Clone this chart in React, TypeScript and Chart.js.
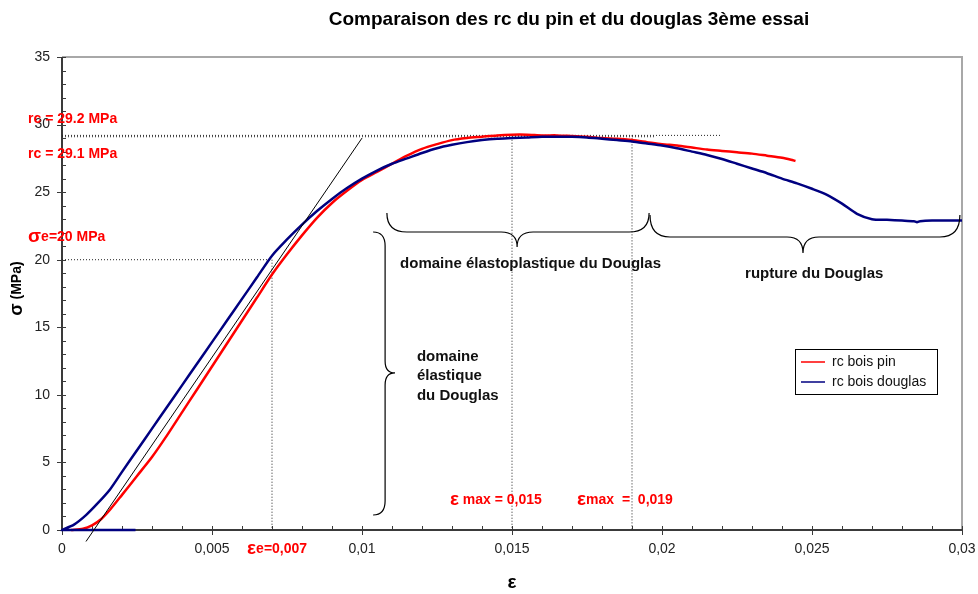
import React, { useEffect, useRef } from 'react';
import { Chart, registerables } from 'chart.js';

Chart.register(...registerables);

// Strain (ε) / stress (MPa) readings, pine specimen
const strainPin = [
  0.0003, 0.0007, 0.001, 0.0013, 0.0016, 0.002, 0.0025, 0.003, 0.0035, 0.004,
  0.0045, 0.005, 0.0055, 0.006, 0.0065, 0.007, 0.0075, 0.008, 0.0085, 0.009,
  0.0095, 0.01, 0.0105, 0.011, 0.0115, 0.012, 0.0125, 0.013, 0.0135, 0.014,
  0.0145, 0.015, 0.0155, 0.016, 0.0165, 0.017, 0.0175, 0.018, 0.0185, 0.019,
  0.0195, 0.02, 0.0205, 0.021, 0.0215, 0.022, 0.0225, 0.023, 0.0235, 0.024,
  0.0243, 0.02445,
];
const stressPin = [
  0, 0.1, 0.35, 0.8, 1.5, 2.6, 4.0, 5.4, 7.0, 8.7,
  10.4, 12.1, 13.8, 15.5, 17.2, 18.9, 20.4, 21.8, 23.1, 24.2,
  25.1, 25.9, 26.5, 27.1, 27.7, 28.2, 28.55, 28.85, 29.0, 29.1,
  29.2, 29.25, 29.25, 29.2, 29.2, 29.15, 29.1, 29.0, 28.95, 28.85,
  28.7, 28.55, 28.45, 28.3, 28.15, 28.05, 27.95, 27.85, 27.7, 27.55,
  27.4, 27.3,
];

// Strain (ε) / stress (MPa) readings, Douglas fir specimen
const strainDouglas = [
  0.00245, 0, 0.0004, 0.0008, 0.0012, 0.0016, 0.002, 0.0025, 0.003, 0.0035,
  0.004, 0.0045, 0.005, 0.0055, 0.006, 0.0065, 0.007, 0.0075, 0.008, 0.0085,
  0.009, 0.0095, 0.01, 0.0105, 0.011, 0.0115, 0.012, 0.0125, 0.013, 0.0135,
  0.014, 0.0145, 0.015, 0.0155, 0.016, 0.0165, 0.017, 0.0175, 0.018, 0.0185,
  0.019, 0.0195, 0.02, 0.0205, 0.021, 0.0215, 0.022, 0.0225, 0.023, 0.0235,
  0.024, 0.0245, 0.025, 0.0255, 0.026, 0.0265, 0.027, 0.0275, 0.028, 0.0284,
  0.0285, 0.0286, 0.029, 0.0295, 0.03,
];
const stressDouglas = [
  0, 0, 0.4, 1.1, 2.0, 3.0, 4.3, 5.9, 7.5, 9.1,
  10.7, 12.3, 13.9, 15.5, 17.1, 18.7, 20.3, 21.5, 22.6, 23.6,
  24.5, 25.3, 26.0, 26.6, 27.1, 27.5, 27.9, 28.25, 28.5, 28.7,
  28.85, 28.95, 29.0, 29.05, 29.1, 29.1, 29.1, 29.05, 28.95, 28.85,
  28.75, 28.6, 28.45, 28.25, 28.0, 27.75, 27.45, 27.1, 26.75, 26.4,
  26.0, 25.65, 25.25, 24.8, 24.15, 23.4, 23.0, 22.95, 22.9, 22.85,
  22.78, 22.85, 22.9, 22.9, 22.9,
];

// Tangent to the elastic part
const tangentStrain = [0.0008, 0.01];
const tangentStress = [-0.85, 29.0];

// Characteristic values
const rcPin = 29.2;
const rcDouglas = 29.1;
const sigmaE = 20;
const epsE = 0.007;
const epsMax1 = 0.015;
const epsMax2 = 0.019;
const rcPinReach = 0.022;
const rcDouglasReach = 0.0198;

const seriesLabels = ['rc bois pin', 'rc bois douglas'];
const seriesColors = ['#ff0000', '#000080'];

const xMin = 0;
const xMax = 0.03;
const xStep = 0.005;
const xMinorStep = 0.001;
const yMin = 0;
const yMax = 35;
const yStep = 5;
const yMinorStep = 1;

const FONT = '"Liberation Sans", Arial, Helvetica, sans-serif';

const toPoints = (xs: number[], ys: number[]) => xs.map((x, i) => ({ x, y: ys[i] }));

const formatTick = (v: number) => String(+Number(v).toFixed(4)).replace('.', ',');

type Part = { text: string; font: string };

function drawParts(ctx: CanvasRenderingContext2D, parts: Part[], x: number, y: number, color: string) {
  ctx.save();
  ctx.fillStyle = color;
  ctx.textBaseline = 'middle';
  ctx.textAlign = 'left';
  let cx = x;
  for (const p of parts) {
    ctx.font = p.font;
    ctx.fillText(p.text, cx, y);
    cx += ctx.measureText(p.text).width;
  }
  ctx.restore();
}

function drawHBrace(ctx: CanvasRenderingContext2D, x1: number, x2: number, xTip: number, yEnd: number, yFlat: number, yTip: number) {
  const r1 = Math.min(20, (xTip - x1) / 3);
  const r2 = Math.min(20, (x2 - xTip) / 3);
  const rt = 16;
  ctx.beginPath();
  ctx.moveTo(x1, yEnd);
  ctx.quadraticCurveTo(x1, yFlat, x1 + r1, yFlat);
  ctx.lineTo(xTip - rt, yFlat);
  ctx.quadraticCurveTo(xTip, yFlat, xTip, yTip);
  ctx.quadraticCurveTo(xTip, yFlat, xTip + rt, yFlat);
  ctx.lineTo(x2 - r2, yFlat);
  ctx.quadraticCurveTo(x2, yFlat, x2, yEnd);
  ctx.stroke();
}

function drawVBrace(ctx: CanvasRenderingContext2D, xEnd: number, xFlat: number, xTip: number, y1: number, y2: number, yTip: number) {
  const r = 14;
  const rt = 12;
  ctx.beginPath();
  ctx.moveTo(xEnd, y1);
  ctx.quadraticCurveTo(xFlat, y1, xFlat, y1 + r);
  ctx.lineTo(xFlat, yTip - rt);
  ctx.quadraticCurveTo(xFlat, yTip, xTip, yTip);
  ctx.quadraticCurveTo(xFlat, yTip, xFlat, yTip + rt);
  ctx.lineTo(xFlat, y2 - r);
  ctx.quadraticCurveTo(xFlat, y2, xEnd, y2);
  ctx.stroke();
}

// Frame, axis lines and tick marks (major ticks cross the axis, minor ticks sit inside)
const axesPlugin = {
  id: 'excelAxes',
  beforeDatasetsDraw(chart: any) {
    const { ctx, chartArea: a, scales } = chart;
    const xs = scales.x;
    const ys = scales.y;
    ctx.save();
    ctx.strokeStyle = '#a8a8a8';
    ctx.lineWidth = 2;
    ctx.beginPath();
    ctx.moveTo(a.left, a.top);
    ctx.lineTo(a.right, a.top);
    ctx.lineTo(a.right, a.bottom);
    ctx.stroke();

    ctx.strokeStyle = '#3a3a3a';
    ctx.lineWidth = 2;
    ctx.beginPath();
    ctx.moveTo(a.left, a.top);
    ctx.lineTo(a.left, a.bottom);
    ctx.lineTo(a.right, a.bottom);
    ctx.stroke();

    ctx.lineWidth = 1;
    const nx = Math.round((xMax - xMin) / xMinorStep);
    for (let i = 0; i <= nx; i++) {
      const v = xMin + i * xMinorStep;
      const px = Math.round(xs.getPixelForValue(v)) + 0.5;
      const major = i % Math.round(xStep / xMinorStep) === 0;
      ctx.beginPath();
      ctx.moveTo(px, a.bottom - 4);
      ctx.lineTo(px, major ? a.bottom + 5 : a.bottom);
      ctx.stroke();
    }
    const ny = Math.round((yMax - yMin) / yMinorStep);
    for (let i = 0; i <= ny; i++) {
      const v = yMin + i * yMinorStep;
      const py = Math.round(ys.getPixelForValue(v)) + 0.5;
      const major = i % Math.round(yStep / yMinorStep) === 0;
      ctx.beginPath();
      ctx.moveTo(major ? a.left - 5 : a.left, py);
      ctx.lineTo(a.left + 4, py);
      ctx.stroke();
    }
    ctx.restore();
  },
};

// Braces, annotations, legend and titles
const notesPlugin = {
  id: 'notes',
  afterDatasetsDraw(chart: any) {
    const { ctx, chartArea: a, scales } = chart;
    const X = (v: number) => scales.x.getPixelForValue(v);
    const Y = (v: number) => scales.y.getPixelForValue(v);

    ctx.save();
    ctx.strokeStyle = '#000';
    ctx.lineWidth = 1.2;
    drawVBrace(ctx, X(0.01037), X(0.01077), X(0.0111), Y(22.05), Y(1.11), Y(11.62));
    drawHBrace(ctx, X(0.01083), X(0.01957), X(0.01517), Y(23.46), Y(22.05), Y(20.94));
    drawHBrace(ctx, X(0.0196), X(0.02993), X(0.0247), Y(23.31), Y(21.68), Y(20.5));
    ctx.restore();

    const red = '#ff0000';
    const b14 = `bold 14px ${FONT}`;
    const b15 = `bold 15px ${FONT}`;
    const sym = `bold 19px ${FONT}`;
    drawParts(ctx, [{ text: `rc = ${rcPin} MPa`, font: b14 }], X(-0.00113), Y(30.41), red);
    drawParts(ctx, [{ text: `rc = ${rcDouglas} MPa`, font: b14 }], X(-0.00113), Y(27.82), red);
    drawParts(ctx, [{ text: 'σ', font: sym }, { text: `e=${sigmaE} MPa`, font: b14 }], X(-0.00113), Y(21.68), red);
    drawParts(ctx, [{ text: 'ε', font: sym }, { text: `e=${formatTick(epsE)}`, font: b14 }], X(0.00617), Y(-1.41), red);
    drawParts(ctx, [{ text: 'ε', font: sym }, { text: ` max = ${formatTick(epsMax1)}`, font: b14 }], X(0.01293), Y(2.22), red);
    drawParts(ctx, [{ text: 'ε', font: sym }, { text: `max  =  ${formatTick(epsMax2)}`, font: b14 }], X(0.01717), Y(2.22), red);

    const black = '#111';
    drawParts(ctx, [{ text: 'domaine élastoplastique du Douglas', font: b15 }], X(0.01127), Y(19.68), black);
    drawParts(ctx, [{ text: 'rupture du Douglas', font: b15 }], X(0.02277), Y(18.94), black);
    drawParts(ctx, [{ text: 'domaine', font: b15 }], X(0.01183), Y(12.8), black);
    drawParts(ctx, [{ text: 'élastique', font: b15 }], X(0.01183), Y(11.4), black);
    drawParts(ctx, [{ text: 'du Douglas', font: b15 }], X(0.01183), Y(9.92), black);

    // Legend box
    const lx = a.right - 167;
    const ly = a.top + 292;
    const lw = 142;
    const lh = 45;
    ctx.save();
    ctx.fillStyle = '#fff';
    ctx.fillRect(lx, ly, lw, lh);
    ctx.strokeStyle = '#000';
    ctx.lineWidth = 1;
    ctx.strokeRect(lx + 0.5, ly + 0.5, lw, lh);
    ctx.font = `14px ${FONT}`;
    ctx.textBaseline = 'middle';
    seriesLabels.forEach((label, i) => {
      const yy = ly + 13 + i * 20;
      ctx.strokeStyle = seriesColors[i];
      ctx.lineWidth = 1.5;
      ctx.beginPath();
      ctx.moveTo(lx + 6, yy);
      ctx.lineTo(lx + 30, yy);
      ctx.stroke();
      ctx.fillStyle = '#111';
      ctx.fillText(label, lx + 37, yy);
    });
    ctx.restore();
  },
  afterDraw(chart: any) {
    const { ctx, chartArea: a } = chart;
    ctx.save();
    ctx.fillStyle = '#000';
    ctx.textAlign = 'center';
    ctx.textBaseline = 'middle';
    ctx.font = `bold 19px ${FONT}`;
    ctx.fillText('Comparaison des rc du pin et du douglas 3ème essai', (a.left + a.right) / 2 + 57, 20);
    ctx.font = `bold 19px ${FONT}`;
    ctx.fillText('ε', (a.left + a.right) / 2, a.bottom + 53);
    ctx.restore();

    // Vertical axis title
    ctx.save();
    ctx.translate(17, (a.top + a.bottom) / 2 - 5);
    ctx.rotate(-Math.PI / 2);
    ctx.fillStyle = '#000';
    ctx.textBaseline = 'middle';
    ctx.textAlign = 'left';
    ctx.font = `bold 18px ${FONT}`;
    const s = 'σ';
    const sw = ctx.measureText(s).width;
    ctx.font = `bold 14px ${FONT}`;
    const rest = ' (MPa)';
    const rw = ctx.measureText(rest).width;
    const start = -(sw + rw) / 2;
    ctx.font = `bold 18px ${FONT}`;
    ctx.fillText(s, start, 0);
    ctx.font = `bold 14px ${FONT}`;
    ctx.fillText(rest, start + sw, 0);
    ctx.restore();
  },
};

const guide = (data: { x: number; y: number }[]) => ({
  label: '',
  data,
  showLine: true,
  borderColor: '#222',
  borderWidth: 1,
  borderDash: [1, 2],
  pointRadius: 0,
  order: 3,
  clip: false,
});

export default function App() {
  const canvasRef = useRef<HTMLCanvasElement>(null);

  useEffect(() => {
    if (!canvasRef.current) return;
    const chart = new Chart(canvasRef.current, {
      type: 'scatter',
      data: {
        datasets: [
          {
            label: 'tangente',
            data: toPoints(tangentStrain, tangentStress),
            showLine: true,
            borderColor: '#000',
            borderWidth: 1,
            pointRadius: 0,
            order: 0,
            clip: false,
          } as any,
          {
            label: seriesLabels[1],
            data: toPoints(strainDouglas, stressDouglas),
            showLine: true,
            borderColor: seriesColors[1],
            borderWidth: 2.5,
            pointRadius: 0,
            tension: 0.25,
            order: 1,
            clip: false,
          },
          {
            label: seriesLabels[0],
            data: toPoints(strainPin, stressPin),
            showLine: true,
            borderColor: seriesColors[0],
            borderWidth: 2.5,
            pointRadius: 0,
            tension: 0.25,
            order: 2,
            clip: false,
          },
          guide([{ x: 0, y: rcPin }, { x: rcPinReach, y: rcPin }]),
          guide([{ x: 0, y: rcDouglas }, { x: rcDouglasReach, y: rcDouglas }]),
          guide([{ x: 0, y: sigmaE }, { x: epsE, y: sigmaE }, { x: epsE, y: 0 }]),
          guide([{ x: epsMax1, y: rcDouglas }, { x: epsMax1, y: 0 }]),
          guide([{ x: epsMax2, y: rcPin }, { x: epsMax2, y: 0 }]),
        ] as any,
      },
      options: {
        animation: false,
        responsive: false,
        devicePixelRatio: 1,
        layout: { padding: { left: 0, right: 16, top: 57, bottom: 0 } },
        plugins: {
          legend: { display: false },
          title: { display: false },
          tooltip: { enabled: false },
        },
        scales: {
          x: {
            type: 'linear',
            min: xMin,
            max: xMax,
            grid: { display: false, drawTicks: false },
            border: { display: false },
            ticks: {
              stepSize: xStep,
              autoSkip: false,
              maxRotation: 0,
              padding: 11,
              color: '#222',
              font: { family: FONT, size: 14 },
              callback: (v: any) => formatTick(Number(v)),
            },
            afterFit: (s: any) => {
              s.height = 64;
              s.paddingLeft = 0;
              s.paddingRight = 0;
            },
          },
          y: {
            type: 'linear',
            min: yMin,
            max: yMax,
            grid: { display: false, drawTicks: false },
            border: { display: false },
            ticks: {
              stepSize: yStep,
              padding: 12,
              color: '#222',
              font: { family: FONT, size: 14 },
              callback: (v: any) => formatTick(Number(v)),
            },
            afterFit: (s: any) => {
              s.width = 62;
              s.paddingTop = 0;
              s.paddingBottom = 0;
            },
          },
        },
      } as any,
      plugins: [axesPlugin, notesPlugin],
    });
    return () => chart.destroy();
  }, []);

  return (
    <div style={{ position: 'absolute', left: 0, top: 0, width: 978, height: 594, background: '#fff' }}>
      <canvas ref={canvasRef} width={978} height={594} style={{ display: 'block' }} />
    </div>
  );
}
